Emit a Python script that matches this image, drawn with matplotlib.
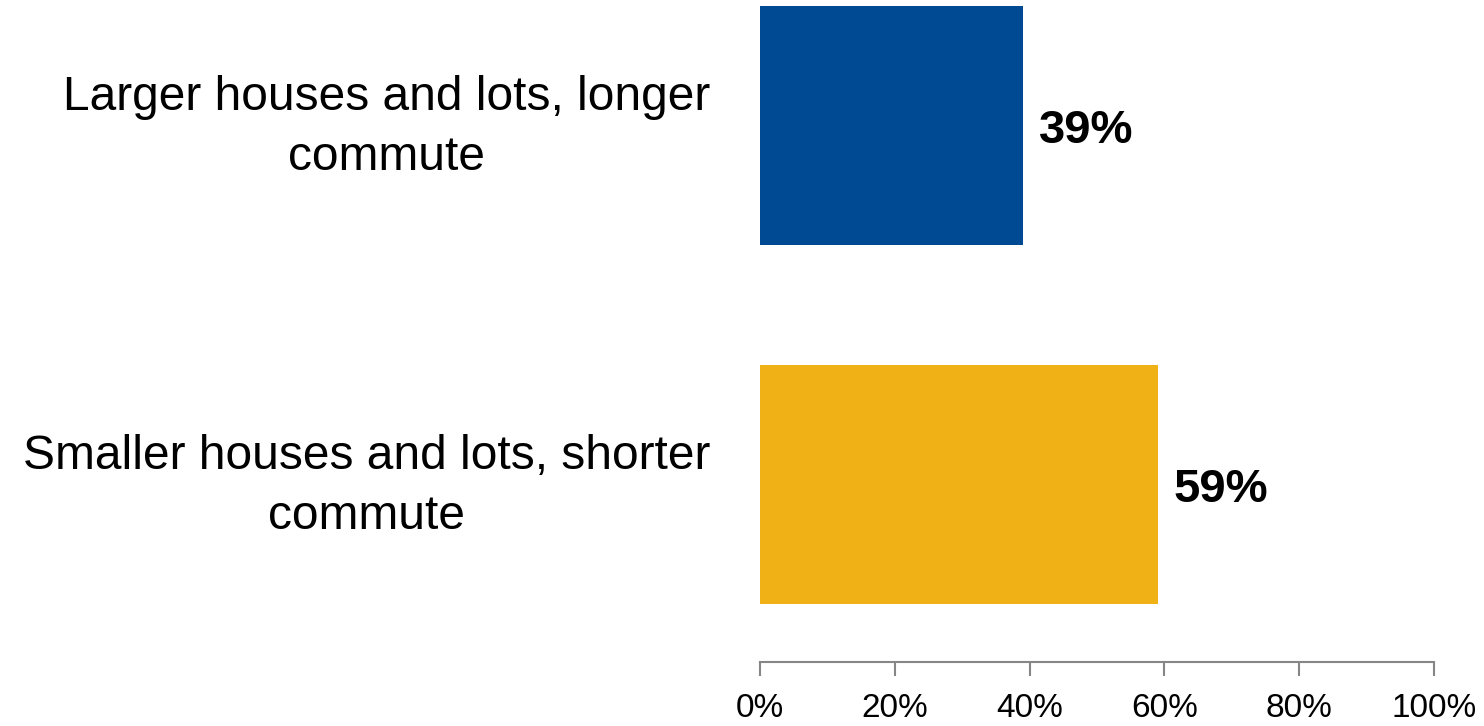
import matplotlib
matplotlib.use("Agg")
import matplotlib.pyplot as plt
from matplotlib.ticker import FuncFormatter

categories = ["Larger houses and lots, longer\ncommute", "Smaller houses and lots, shorter\ncommute"]
values = [39, 59]
colors = ["#004A93", "#EFB115"]
xticks = [0, 20, 40, 60, 80, 100]

plt.rcParams['font.family'] = ['Liberation Sans', 'DejaVu Sans']

fig = plt.figure(figsize=(14.84, 7.26), dpi=100)
ax = fig.add_axes([760/1484, (726-662)/726, 674/1484, 662/726])

ypos = [1, 0]
ax.barh(ypos, values, height=0.666, color=colors)
ax.set_xlim(0, 100)
ax.set_ylim(-0.494, 1.3496)

for y, v in zip(ypos, values):
    ax.text(v + 2.4, y - 0.015, f"{v}%", va='center', ha='left', fontsize=34, fontweight='bold')

for y, c in zip(ypos, categories):
    ax.text(-7.4, y - 0.005, c, va='center', ha='right', multialignment='center',
            fontsize=34.5, linespacing=1.42, transform=ax.transData)

ax.set_yticks([])
ax.set_xticks(xticks)
ax.xaxis.set_major_formatter(FuncFormatter(lambda x, p: f"{int(x)}%"))
for s in ['top', 'right', 'left']:
    ax.spines[s].set_visible(False)
ax.spines['bottom'].set_color('#868686')
ax.spines['bottom'].set_linewidth(1.5)
ax.tick_params(axis='x', direction='out', length=10, width=1.5, color='#868686',
               labelsize=24, pad=12)

fig.savefig("out.png", dpi=100)
